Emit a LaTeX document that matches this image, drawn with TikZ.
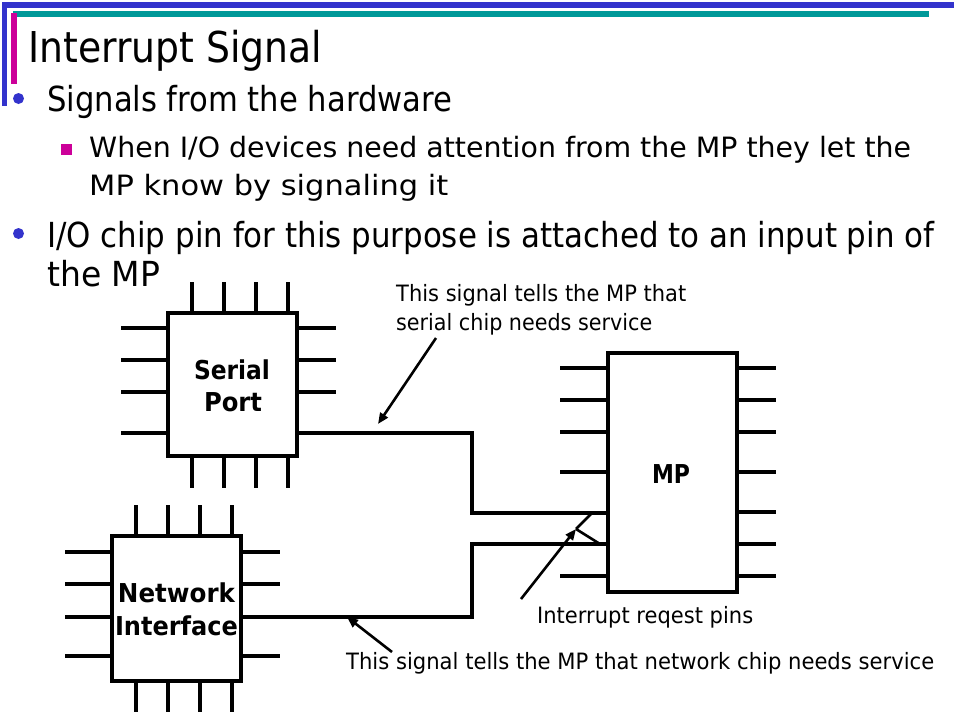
\documentclass[tikz,border=0pt]{standalone}
\usepackage{fontspec}
\setmainfont{DejaVu Sans}
\usetikzlibrary{arrows.meta}
\definecolor{barblue}{RGB}{51,51,204}
\definecolor{barteal}{RGB}{0,153,153}
\definecolor{barmag}{RGB}{204,0,153}
\newcommand{\fitw}[2]{\resizebox{#1pt}{\height}{#2}}
\begin{document}
\begin{tikzpicture}[x=1pt,y=-1pt,
  txt/.style={inner sep=0pt, anchor=base west, text=black},
  lbl/.style={inner sep=0pt, anchor=base, text=black},
  titlefont/.style={font=\fontsize{42.5}{48}\selectfont},
  lvlone/.style={font=\fontsize{34.5}{40}\selectfont},
  lvltwo/.style={font=\fontsize{28}{32}\selectfont},
  smallfont/.style={font=\fontsize{22.5}{26}\selectfont},
  chipfont/.style={font=\bfseries\fontsize{26}{30}\selectfont},
  chip/.style={draw, line width=3.2pt, inner sep=0pt},
  pinline/.style={line width=3.2pt},
  wire/.style={line width=3.2pt},
  callout/.style={line width=2.6pt, -{Triangle[length=11pt,width=9pt]}},
  plainline/.style={line width=2.6pt}
]
\useasboundingbox (0,0) rectangle (960,720);
\fill[white] (0,0) rectangle (960,720);

% header bars
\fill[barblue] (2,2) rectangle (954,7.5);
\fill[barblue] (2,2) rectangle (7,106);
\fill[barteal] (12.5,11) rectangle (929,16.5);
\fill[barmag] (11,12.5) rectangle (16.5,84);

% title and bullets
\node[txt,titlefont] (title) at (28,62) {\fitw{294}{Interrupt Signal}};
\fill[barblue] (18.5,98.5) circle (5.5);
\node[txt,lvlone] (b1) at (47,111) {\fitw{405}{Signals from the hardware}};
\fill[barmag] (61,144) rectangle (72,155);
\node[txt,lvltwo] (b2a) at (89,157) {\fitw{822}{When I/O devices need attention from the MP they let the}};
\node[txt,lvltwo] (b2b) at (89,195) {\fitw{359}{MP know by signaling it}};
\fill[barblue] (18.5,233.5) circle (5.5);
\node[txt,lvlone] (b3a) at (47,247) {\fitw{887}{I/O chip pin for this purpose is attached to an input pin of}};
\node[txt,lvlone] (b3b) at (47,286) {\fitw{113}{the MP}};

% chips
\node[chip, minimum width=129pt, minimum height=143pt] (sp) at (232.5,384.5) {};
\node[chip, minimum width=129pt, minimum height=239pt] (mp) at (672.5,472.5) {};
\node[chip, minimum width=129pt, minimum height=145pt] (ni) at (176.5,608.5) {};

% chip labels
\node[lbl,chipfont] (spl1) at (232,379) {\fitw{76}{Serial}};
\node[lbl,chipfont] (spl2) at (233,411) {\fitw{58}{Port}};
\node[lbl,chipfont] (mpl) at (671,483) {\fitw{38}{MP}};
\node[lbl,chipfont] (nil1) at (176.5,602) {\fitw{117}{Network}};
\node[lbl,chipfont] (nil2) at (176.5,635) {\fitw{123}{Interface}};

% serial port pins
\foreach \x in {192,224,256,288} {
  \draw[pinline] (\x,282) -- (\x,313);
  \draw[pinline] (\x,456) -- (\x,488);
}
\foreach \y in {328,360,392,433} \draw[pinline] (121,\y) -- (168,\y);
\foreach \y in {328,360,392} \draw[pinline] (297,\y) -- (336,\y);

% MP pins
\foreach \y in {368,400,432,472,576} \draw[pinline] (560,\y) -- (608,\y);
\foreach \y in {368,400,432,472,512,544,576} \draw[pinline] (737,\y) -- (776,\y);

% network interface pins
\foreach \x in {136,168,200,232} {
  \draw[pinline] (\x,505) -- (\x,536);
  \draw[pinline] (\x,681) -- (\x,712);
}
\foreach \y in {552,584,617,656} \draw[pinline] (65,\y) -- (112,\y);
\foreach \y in {552,584,656} \draw[pinline] (241,\y) -- (280,\y);

% signal wires
\coordinate (spout) at (297,433);
\coordinate (niout) at (241,617);
\coordinate (mpin1) at (608,513);
\coordinate (mpin2) at (608,544);
\draw[wire] (spout) -- (472,433) |- (mpin1);
\draw[wire] (niout) -- (472,617) |- (mpin2);

% labels
\node[txt,smallfont] (lab1a) at (396,301) {\fitw{290}{This signal tells the MP that}};
\node[txt,smallfont] (lab1b) at (396,330) {\fitw{256}{serial chip needs service}};
\node[txt,smallfont] (lab2) at (537,623) {\fitw{216}{Interrupt reqest pins}};
\node[txt,smallfont] (lab3) at (346,669) {\fitw{588}{This signal tells the MP that network chip needs service}};

% callout arrows
\coordinate (a1s) at (436,338);
\coordinate (a1e) at (378,424);
\draw[callout] (a1s) -- (a1e);
\coordinate (a3s) at (392,652);
\coordinate (a3e) at (347,617);
\draw[callout] (a3s) -- (a3e);
\coordinate (a2s) at (521,599);
\coordinate (a2e) at (576,529);
\coordinate (irq1) at (592,513);
\coordinate (irq2) at (600,544);
\draw[callout] (a2s) -- (a2e);
\draw[plainline] (a2e) -- (irq1);
\draw[plainline] (a2e) -- (irq2);
\end{tikzpicture}
\end{document}
